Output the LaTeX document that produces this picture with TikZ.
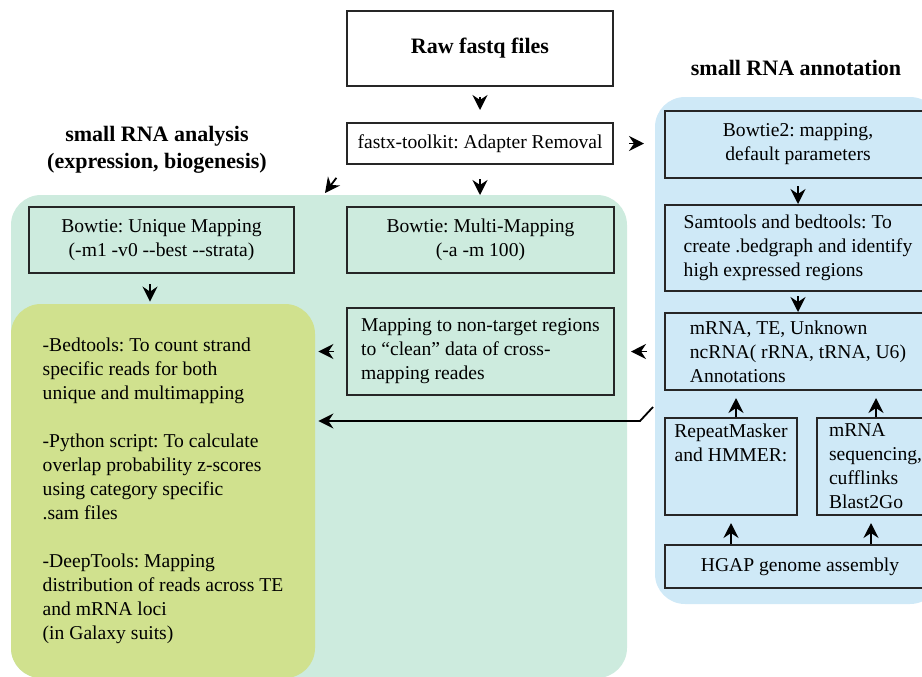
\documentclass[tikz,border=0pt]{standalone}
\usepackage{fontspec}
\setmainfont{Liberation Serif}
\usetikzlibrary{arrows.meta}

\definecolor{anagreen}{RGB}{205,235,222}
\definecolor{statgreen}{RGB}{208,225,142}
\definecolor{annoblue}{RGB}{207,233,247}

\newcommand{\boxfont}{\frenchspacing\fontsize{9.8}{12}\selectfont}
\newcommand{\headfont}{\bfseries\fontsize{11}{13.5}\selectfont}

\tikzset{
  box/.style={draw=black!85, line width=1pt, align=center, inner sep=3pt, font=\boxfont},
  region/.style={rounded corners=15pt, inner sep=0pt},
  heading/.style={font=\headfont, align=center},
  arr/.style={-{Stealth[length=7.5pt,width=7.5pt,inset=2.5pt]}, line width=0.9pt},
}

\begin{document}
\begin{tikzpicture}[x=0.5pt, y=-0.5pt]
  \useasboundingbox (0,0) rectangle (922,676);

  % coloured areas
  \node[region, fill=anagreen, minimum width=308pt, minimum height=241.5pt] (anareg) at (319,436.5) {};
  \node[region, fill=annoblue, minimum width=142.5pt, minimum height=253.5pt] (annoreg) at (797.5,350.5) {};
  \node[region, fill=statgreen, minimum width=152pt, minimum height=187pt,
        align=left, font=\boxfont] (stats) at (163,491)
    {-Bedtools: To count strand\\
     specific reads for both\\
     unique and multimapping\\[12pt]
     -Python script: To calculate\\
     overlap probability z-scores\\
     using category specific\\
     .sam files\\[12pt]
     -DeepTools: Mapping\\
     distribution of reads across TE\\
     and mRNA loci\\
     (in Galaxy suits)};

  \node[heading] (anatitle) at (157,150) {small RNA analysis\\(expression, biogenesis)};
  \node[heading] (annotitle) at (796,68) {small RNA annotation};

  % pipeline
  \node[box, font=\headfont, minimum width=133pt, minimum height=37.5pt] (raw) at (480,48.5) {Raw fastq files};
  \node[box, minimum width=133pt, minimum height=20.5pt] (fastx) at (480,143.5) {fastx-toolkit: Adapter Removal};
  \node[box, minimum width=132.5pt, minimum height=33pt] (uniq) at (161.5,240)
    {Bowtie: Unique Mapping\\(-m1 -v0 -{}-best -{}-strata)};
  \node[box, minimum width=133.5pt, minimum height=33pt] (multi) at (480.5,240)
    {Bowtie: Multi-Mapping\\(-a -m 100)};
  \node[box, align=left, minimum width=133.5pt, minimum height=43.5pt] (clean) at (480.5,351.5)
    {Mapping to non-target regions\\to “clean” data of cross-\\mapping reades};

  % annotation
  \node[box, minimum width=133pt, minimum height=33.5pt] (bt2) at (798,144.5)
    {Bowtie2: mapping,\\default parameters};
  \node[box, align=left, minimum width=133pt, minimum height=43pt] (sam) at (798,248)
    {Samtools and bedtools: To\\create .bedgraph and identify\\high expressed regions};
  \node[box, align=left, minimum width=133pt, minimum height=38.5pt] (annot) at (798,351.5)
    {mRNA, TE, Unknown\\ncRNA( rRNA, tRNA, U6)\\Annotations};
  \node[box, inner ysep=0pt, minimum width=66pt, minimum height=48.5pt] (rm) at (731,466.5)
    {RepeatMasker\\and HMMER:\\\mbox{}\\\mbox{}};
  \node[box, align=left, inner ysep=0pt, inner xsep=6pt, text width=47pt,
        minimum width=59pt, minimum height=48.5pt] (mrna) at (876,466.5)
    {mRNA\\sequencing,\\cufflinks\\Blast2Go};
  \node[box, minimum width=135pt, minimum height=21.5pt] (hgap) at (800,566.5) {HGAP genome assembly};

  \coordinate (anatip) at (325,193);
  \coordinate (kink) at (653,407);
  \coordinate (knee) at (640,421);

  \draw[arr, shorten <=5pt, shorten >=6pt] (raw) -- (fastx);
  \draw[arr, shorten <=7pt, shorten >=5.5pt] (fastx.south) -- (fastx.south |- multi.north);
  \draw[arr, shorten <=7.5pt, shorten >=10pt] (fastx.east) -- (fastx.east -| bt2.west);
  \draw[arr, shorten <=8pt] (fastx.south west) -- (anatip);
  \draw[arr, shorten <=5pt, shorten >=1pt] ([xshift=-5.75pt]uniq.south) -- ([xshift=-5.75pt]uniq.south |- stats.north);
  \draw[arr, shorten <=8.5pt, shorten >=8pt] (annot) -- (clean);
  \draw[arr, shorten <=6pt, shorten >=1.5pt] (clean.west) -- (clean.west -| stats.east);
  \draw[arr, shorten >=1.5pt] (kink) -- (knee) -- (knee -| stats.east);

  \draw[arr, shorten <=3.5pt] (bt2) -- (sam);
  \draw[arr, shorten <=2pt] (sam) -- (annot);
  \draw[arr, shorten >=3.5pt] ([xshift=2.5pt]rm.north) -- ([xshift=2.5pt]rm.north |- annot.south);
  \draw[arr, shorten >=3.5pt] (mrna.north) -- (mrna.north |- annot.south);
  \draw[arr, shorten >=3.5pt] (rm.south |- hgap.north) -- (rm.south);
  \draw[arr, shorten >=3.5pt] ([xshift=-2.5pt]mrna.south |- hgap.north) -- ([xshift=-2.5pt]mrna.south);
\end{tikzpicture}
\end{document}
